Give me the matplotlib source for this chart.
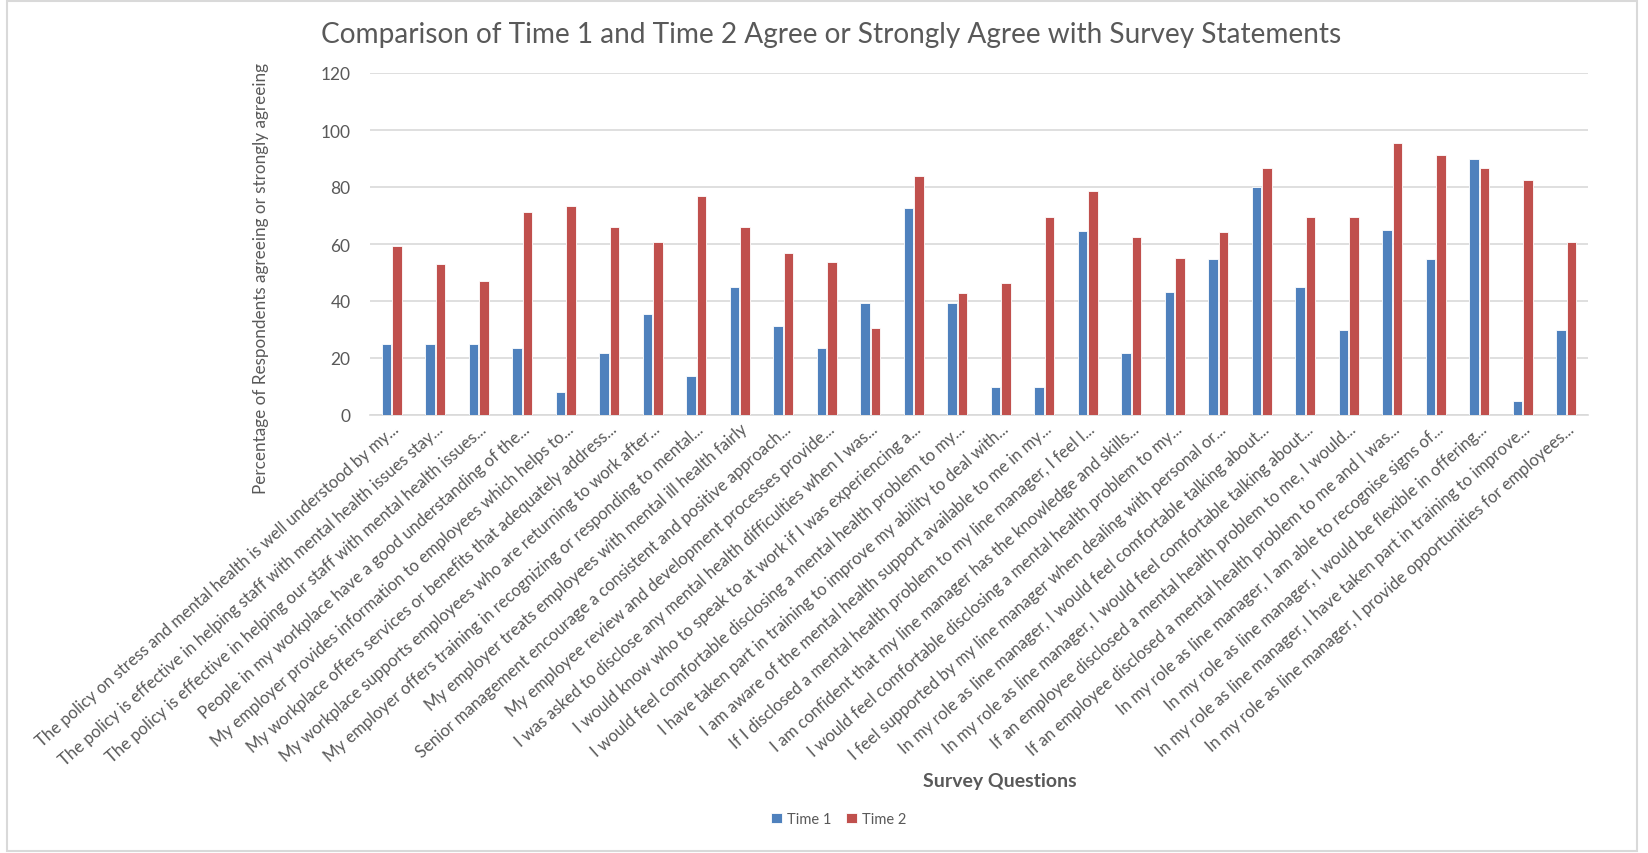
import numpy as np
import matplotlib
matplotlib.use("Agg")
import matplotlib.pyplot as plt
from matplotlib.patches import Rectangle

plt.rcParams['font.family'] = ['Lato', 'DejaVu Sans']

questions = [
    "The policy on stress and mental health is well understood by my...",
    "The policy is effective in helping staff with mental health issues stay...",
    "The policy is effective in helping our staff with mental health issues...",
    "People in my workplace have a good understanding of the...",
    "My employer provides information to employees which helps to...",
    "My workplace offers services or benefits that adequately address...",
    "My workplace supports employees who are returning to work after...",
    "My employer offers training in recognizing or responding to mental...",
    "My employer treats employees with mental ill health fairly",
    "Senior management encourage a consistent and positive approach...",
    "My employee review and development processes provide...",
    "I was asked to disclose any mental health difficulties when I was...",
    "I would know who to speak to at work if I was experiencing a...",
    "I would feel comfortable disclosing a mental health problem to my...",
    "I have taken part in training to improve my ability to deal with...",
    "I am aware of the mental health support available to me in my...",
    "If I disclosed a mental health problem to my line manager, I feel I...",
    "I am confident that my line manager has the knowledge and skills...",
    "I would feel comfortable disclosing a mental health problem to my...",
    "I feel supported by my line manager when dealing with personal or...",
    "In my role as line manager, I would feel comfortable talking about...",
    "In my role as line manager, I would feel comfortable talking about...",
    "If an employee disclosed a mental health problem to me, I would...",
    "If an employee disclosed a mental health problem to me and I was...",
    "In my role as line manager, I am able to recognise signs of...",
    "In my role as line manager, I would be flexible in offering...",
    "In my role as line manager, I have taken part in training to improve...",
    "In my role as line manager, I provide opportunities for employees...",
]

time1 = [25, 25, 25, 23.5, 7.9, 21.6, 35.3, 13.8, 45, 31.4, 23.5, 39.2, 72.5, 39.2,
         9.8, 9.8, 64.7, 21.6, 43.1, 54.9, 80, 45, 30, 64.9, 54.9, 89.9, 4.9, 30]
time2 = [59.4, 53.1, 46.9, 71.3, 73.2, 66.1, 60.6, 76.8, 66.1, 57, 53.6, 30.4, 83.8, 42.9,
         46.4, 69.6, 78.6, 62.5, 55.2, 64.2, 86.8, 69.5, 69.6, 95.6, 91.3, 86.8, 82.6, 60.7]

W, H = 1649, 854
fig = plt.figure(figsize=(W / 100, H / 100), dpi=100)
ax = fig.add_axes([370 / W, 1 - 416 / H, (1588 - 370) / W, (416 - 74) / H])

x = np.arange(len(questions))
bw = 0.22
ax.bar(x - bw / 2 - 0.01, time1, bw, color='#4F81BD', edgecolor='white', linewidth=0.6, label='Time 1', zorder=3)
ax.bar(x + bw / 2 + 0.01, time2, bw, color='#C0504D', edgecolor='white', linewidth=0.6, label='Time 2', zorder=3)

grey = '#595959'
ax.set_xlim(-0.5, len(questions) - 0.5)
ax.set_ylim(0, 120)
ax.set_yticks(range(0, 121, 20))
ax.yaxis.grid(True, color='#D9D9D9', linewidth=1.2, zorder=0)
for s in ['top', 'right', 'left']:
    ax.spines[s].set_visible(False)
ax.spines['bottom'].set_color('#D9D9D9')
ax.spines['bottom'].set_linewidth(1.2)
ax.tick_params(axis='y', length=0, labelsize=12.5, colors=grey, pad=14)
ax.tick_params(axis='x', length=0, pad=4)
ax.set_xticks(x)
ax.set_xticklabels(questions, rotation=41.5, ha='right', rotation_mode='anchor',
                   fontsize=12, color=grey)

fig.text(831 / W, 1 - 35 / H, "Comparison of Time 1 and Time 2 Agree or Strongly Agree with Survey Statements",
         ha='center', va='center', fontsize=20.2, color=grey)
fig.text(261 / W, 1 - 279 / H, "Percentage of Respondents agreeing or strongly agreeing",
         ha='center', va='center', rotation=90, fontsize=12.3, color=grey)
fig.text(1000 / W, 1 - 782 / H, "Survey Questions", ha='center', va='center',
         fontsize=14, fontweight='bold', color=grey)

fig.legend(loc='center', bbox_to_anchor=(839 / W, 1 - 820 / H), ncol=2, frameon=False,
           fontsize=10.5, labelcolor=grey, handlelength=0.7, handleheight=0.7,
           columnspacing=1.0, handletextpad=0.4)

fig.patches.append(Rectangle((7 / W, 2 / H), (1637 - 7) / W, (852 - 2) / H, transform=fig.transFigure,
                             fill=False, edgecolor='#D9D9D9', linewidth=1.5))

fig.savefig("out.png", dpi=100)
